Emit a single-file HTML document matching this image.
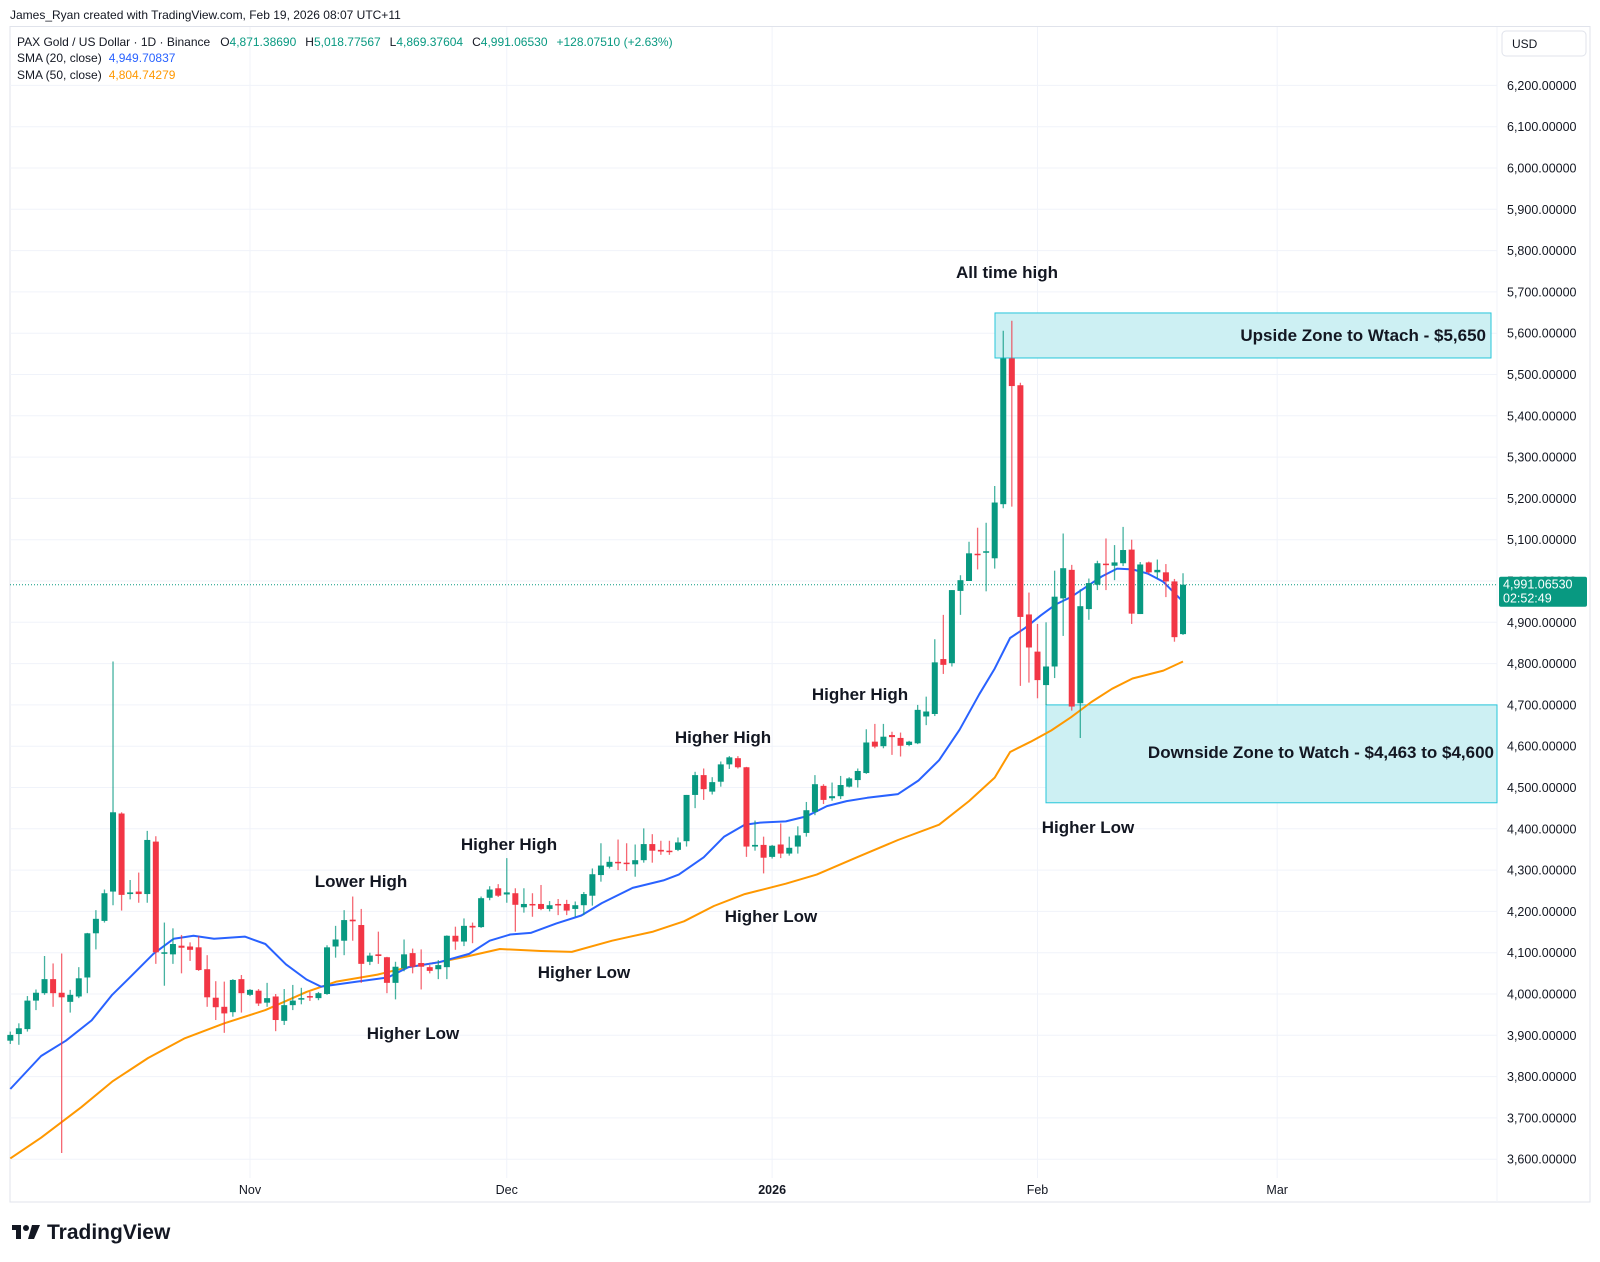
<!DOCTYPE html>
<html><head><meta charset="utf-8">
<style>
html,body{margin:0;padding:0;background:#fff;}
svg{display:block;font-family:"Liberation Sans",sans-serif;}
</style></head>
<body>
<svg id="chart" width="1600" height="1262" viewBox="0 0 1600 1262" xmlns="http://www.w3.org/2000/svg">
<rect x="0" y="0" width="1600" height="1262" fill="#fff"/>
<text x="10" y="19" font-size="12" fill="#131722">James_Ryan created with TradingView.com, Feb 19, 2026 08:07 UTC+11</text>
<rect x="10" y="26.5" width="1580" height="1175.5" fill="none" stroke="#e0e3eb" stroke-width="1"/>
<line x1="1497" y1="27" x2="1497" y2="1202" stroke="#f0f3fa"/>
<g id="grid"></g>
<g id="zones"></g>
<g id="sma"></g>
<g id="candles"></g>
<g id="axis"></g>
<g id="labels"></g>
<g font-size="12">
<text x="17" y="46" fill="#131722">PAX Gold / US Dollar · 1D · Binance<tspan dx="10" fill="#131722">O</tspan><tspan fill="#089981">4,871.38690</tspan><tspan dx="9" fill="#131722">H</tspan><tspan fill="#089981">5,018.77567</tspan><tspan dx="9" fill="#131722">L</tspan><tspan fill="#089981">4,869.37604</tspan><tspan dx="9" fill="#131722">C</tspan><tspan fill="#089981">4,991.06530</tspan><tspan dx="9" fill="#089981">+128.07510 (+2.63%)</tspan></text>
<text x="17" y="62" fill="#131722">SMA (20, close)<tspan dx="7" fill="#2962ff">4,949.70837</tspan></text>
<text x="17" y="79" fill="#131722">SMA (50, close)<tspan dx="7" fill="#ff9800">4,804.74279</tspan></text>
</g>
<g>
<rect x="1502" y="31" width="84" height="25" rx="4" fill="#fff" stroke="#e0e3eb"/>
<text x="1512" y="48" font-size="12" fill="#131722">USD</text>
</g>
<g>
<rect x="12" y="1225" width="9" height="5" fill="#131722"/>
<rect x="16" y="1225" width="5" height="14" fill="#131722"/>
<circle cx="26" cy="1228" r="3" fill="#131722"/>
<polygon points="32,1225 40,1225 34,1239 28,1239" fill="#131722"/>
<text x="47" y="1239" font-size="21" font-weight="bold" fill="#131722">TradingView</text>
</g>
</svg>
<script>
const opens=[3887,3903,3915,3984,4002,4036,4003,3981,3994,4040,4147,4177,4248,4437,4242,4248,4242,4369,4099,4096,4117,4115,4113,4060,3991,3969,3956,4036,3998,4008,3979,3994,3935,3973,3987,3995,3990,4000,4115,4129,4180,4167,4078,4096,4089,4027,4062,4099,4075,4065,4060,4065,4141,4127,4165,4162,4233,4256,4241,4244,4210,4218,4218,4206,4218,4218,4206,4215,4238,4288,4308,4320,4318,4314,4324,4363,4349,4347,4349,4370,4482,4530,4490,4514,4556,4571,4549,4357,4361,4332,4362,4340,4357,4390,4441,4504,4474,4479,4502,4518,4535,4611,4600,4627,4620,4603,4607,4672,4678,4811,4801,4976,5000,5066,5069,5055,5186,5539,5474,4919,4829,4748,4793,4958,5027,4704,4932,4991,5042,5037,5043,5076,4920,5045,5021,5021,4999,4871.39];
const highs=[3909,3929,3995,4011,4092,4074,4098,4010,4065,4148,4203,4253,4805,4440,4276,4294,4395,4382,4173,4159,4143,4125,4140,4094,4031,4030,4036,4046,4012,4012,4027,4000,4012,4022,4015,4005,4005,4118,4165,4203,4236,4206,4100,4151,4090,4078,4132,4110,4108,4070,4082,4142,4163,4183,4173,4236,4261,4266,4329,4256,4256,4244,4264,4225,4230,4228,4224,4247,4304,4365,4333,4374,4365,4362,4401,4387,4371,4371,4379,4482,4538,4546,4525,4563,4576,4576,4550,4420,4381,4361,4413,4381,4406,4465,4530,4508,4512,4528,4525,4546,4641,4654,4654,4635,4633,4613,4700,4720,4859,4918,4978,5014,5095,5129,5141,5230,5606,5630,5480,4972,4896,4900,5025,5115,5039,4980,5006,5049,5103,5087,5131,5100,5046,5047,5052,5041,5005,5018.78];
const lows=[3879,3877,3909,3961,3998,3969,3615,3955,3990,4002,4108,4173,4215,4202,4229,4221,4221,4073,4020,4073,4050,4080,4056,3969,3937,3906,3945,3955,3995,3971,3969,3910,3925,3961,3975,3983,3985,3998,4088,4094,4129,4027,4070,4073,4002,3987,4055,4050,4011,4050,4036,4036,4107,4116,4123,4160,4227,4235,4221,4151,4197,4187,4203,4200,4191,4191,4187,4191,4214,4272,4304,4300,4298,4284,4318,4318,4337,4337,4346,4357,4450,4470,4483,4502,4545,4546,4332,4347,4292,4328,4329,4335,4340,4381,4433,4460,4468,4472,4500,4500,4533,4595,4595,4579,4575,4600,4605,4651,4673,4775,4793,4918,5000,5028,4975,5030,5176,5180,4746,4754,4716,4700,4765,4867,4686,4620,4906,4978,4978,5002,5036,4896,4920,5017,5006,4961,4853,4869.38];
const closes=[3901,3917,3984,4003,4036,4002,3992,3998,4038,4147,4182,4244,4440,4240,4246,4242,4373,4101,4101,4121,4112,4107,4058,3992,3968,3953,4034,4002,4010,3977,3990,3937,3973,3984,3990,3992,4002,4113,4132,4179,4176,4073,4093,4092,4027,4066,4096,4066,4066,4056,4070,4141,4127,4165,4161,4232,4253,4238,4246,4216,4218,4215,4206,4215,4215,4202,4215,4242,4290,4311,4320,4318,4315,4324,4363,4347,4345,4345,4367,4482,4530,4496,4513,4556,4573,4549,4357,4361,4330,4359,4340,4354,4384,4445,4508,4470,4479,4506,4522,4540,4609,4599,4623,4622,4601,4611,4688,4684,4803,4797,4978,5002,5067,5064,5072,5190,5539,5472,4913,4839,4760,4793,4962,5031,4696,4939,4995,5043,5040,5045,5075,4921,5040,5021,5027,4999,4864,4991.07];
const sma20Idx=[0,3.6,6.5,9.5,11.9,14.3,16.7,19.1,21.4,23.8,27.4,29.8,32.2,34.6,36.3,38.1,40.5,44.1,46.5,50.1,53.6,56,58.4,60.8,63.8,66.7,69.1,72.7,76.3,78.1,81,83.4,85.8,87.6,90.6,93,95.4,97.7,100.1,103.7,106.1,108.5,110.9,113.2,115,116.8,118.6,120.4,122.2,123.9,125.7,127.5,129.3,131.1,132.9,134.7,137];
const sma20Val=[3770,3850,3887,3936,3998,4047,4097,4134,4141,4134,4139,4121,4072,4035,4018,4023,4030,4040,4065,4077,4097,4129,4144,4148,4171,4190,4220,4257,4275,4289,4331,4381,4410,4415,4418,4430,4455,4467,4475,4484,4517,4566,4640,4726,4788,4862,4887,4917,4944,4961,4986,5011,5030,5028,5018,4998,4950];
const sma50Idx=[0,3.6,8.3,11.9,16.1,20.3,25,29.8,34.6,38.1,42.9,46.5,50.1,53.6,57.2,62,65.6,70.3,75.1,78.7,82.2,85.8,90.6,94.2,98.9,103.7,108.5,112,115,116.8,119.2,121.6,123.9,126.3,128.7,131.1,134.7,137];
const sma50Val=[3602,3652,3726,3788,3845,3892,3929,3961,4005,4030,4047,4065,4077,4092,4109,4104,4102,4129,4151,4176,4213,4242,4267,4289,4331,4373,4410,4467,4524,4586,4611,4638,4670,4707,4739,4764,4783,4805];
const priceTicks=[3600,3700,3800,3900,4000,4100,4200,4300,4400,4500,4600,4700,4800,4900,5000,5100,5200,5300,5400,5500,5600,5700,5800,5900,6000,6100,6200];
const timeTickIdx=[28,58,89,120,148];
const timeTickLbl=["Nov","Dec","2026","Feb","Mar"];
const lastPrice=4991.0653;
const upZone=[5540,5649];
const downZone=[4463,4700];

const NS="http://www.w3.org/2000/svg";
const X=i=>10.3+8.56*i;
const Y=p=>994-(p-4000)*0.413;
function mk(tag,attrs,parent){const e=document.createElementNS(NS,tag);for(const k in attrs)e.setAttribute(k,attrs[k]);parent.appendChild(e);return e;}
const grid=document.getElementById('grid'),axis=document.getElementById('axis');
priceTicks.forEach(p=>{
  const l=mk('line',{x1:10,x2:1497,y1:Y(p),y2:Y(p),stroke:'#f0f3fa','stroke-width':1},grid);
  
  
  const t=mk('text',{x:1507,y:Y(p)+4.5,'font-size':12.5,fill:'#131722'},axis);
  
  
  t.textContent=p.toLocaleString('en-US')+'.00000';
});
timeTickIdx.forEach((i,k)=>{
  const l=mk('line',{x1:X(i),x2:X(i),y1:27,y2:1178,stroke:'#f0f3fa','stroke-width':1},grid);
  
  
  const t=mk('text',{x:X(i),y:1194,'font-size':12.5,fill:'#131722','text-anchor':'middle','font-weight':timeTickLbl[k]==='2026'?'bold':'normal'},axis);
  
  
  t.textContent=timeTickLbl[k];
});
const zones=document.getElementById('zones');
const uz=mk('rect',{x:995,y:Y(upZone[1]),width:496,height:Y(upZone[0])-Y(upZone[1]),fill:'#cdf0f3',stroke:'#26c6da','stroke-width':1},zones);


const dz=mk('rect',{x:1046,y:Y(downZone[1]),width:451,height:Y(downZone[0])-Y(downZone[1]),fill:'#cdf0f3',stroke:'#26c6da','stroke-width':1},zones);


const smaG=document.getElementById('sma');
function line(idx,val,color,name){
  const d=idx.map((i,k)=>(k?'L':'M')+X(i).toFixed(1)+' '+Y(val[k]).toFixed(1)).join(' ');
  const p=mk('path',{d:d,fill:'none',stroke:color,'stroke-width':2,'stroke-linejoin':'round'},smaG);
  
  
}
line(sma50Idx,sma50Val,'#ff9800','sma-50-line');
line(sma20Idx,sma20Val,'#2962ff','sma-20-line');
const lp=mk('line',{x1:10,x2:1497,y1:Y(lastPrice),y2:Y(lastPrice),stroke:'#089981','stroke-width':1,'stroke-dasharray':'1 2'},grid);


const cg=document.getElementById('candles');
closes.forEach((c,i)=>{
  const o=opens[i],up=c>=o,col=up?'#089981':'#f23645';
  const g=mk('g',{},cg);
  
  
  mk('line',{x1:X(i),x2:X(i),y1:Y(highs[i]),y2:Y(lows[i]),stroke:col,'stroke-width':1.3,opacity:0.75},g);
  const top=Y(Math.max(o,c)),h=Math.max(1.5,Y(Math.min(o,c))-top);
  mk('rect',{x:X(i)-3,y:top,width:6,height:h,fill:col},g);
});
const bg=mk('g',{},axis);


mk('rect',{x:1499,y:Y(lastPrice)-8,width:88,height:30,rx:2,fill:'#089981'},bg);
const t1=mk('text',{x:1503,y:Y(lastPrice)+4,'font-size':12.5,fill:'#fff'},bg);t1.textContent='4,991.06530';
const t2=mk('text',{x:1503,y:Y(lastPrice)+18,'font-size':12.5,fill:'#fff'},bg);t2.textContent='02:52:49';
const lg=document.getElementById('labels');
const ann=[["All time high",1007,278,'middle','all-time-high-label'],
["Upside Zone to Wtach - $5,650",1486,341,'end','upside-zone-label'],
["Downside Zone to Watch - $4,463 to $4,600",1494,758,'end','downside-zone-label'],
["Higher Low",1088,833,'middle','higher-low-label'],
["Higher High",860,700,'middle','higher-high-label'],
["Higher High",723,743,'middle','higher-high-label'],
["Higher Low",771,922,'middle','higher-low-label'],
["Higher High",509,850,'middle','higher-high-label'],
["Higher Low",584,978,'middle','higher-low-label'],
["Lower High",361,887,'middle','lower-high-label'],
["Higher Low",413,1039,'middle','higher-low-label']];
ann.forEach(a=>{
  const t=mk('text',{x:a[1],y:a[2],'font-size':17,'font-weight':'bold',fill:'#131722','text-anchor':a[3]},lg);
  
  
  t.textContent=a[0];
});
</script>
</body></html>
